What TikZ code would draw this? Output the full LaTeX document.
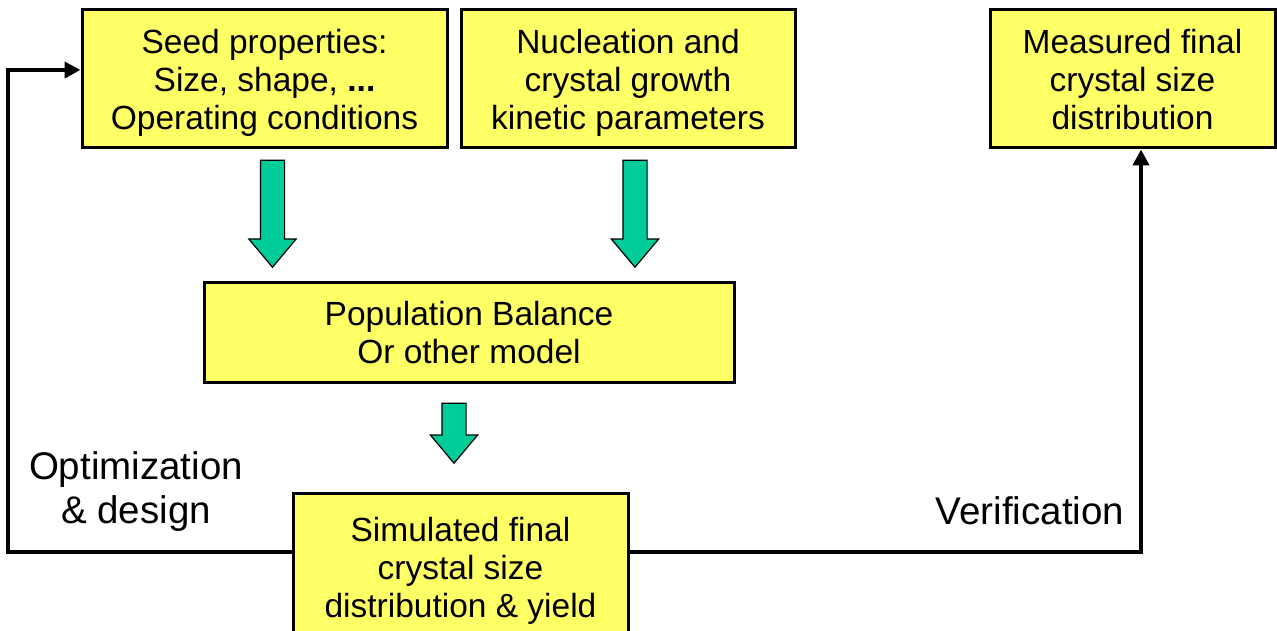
\documentclass[tikz,border=0pt]{standalone}
\usepackage{fontspec}
\setmainfont{Liberation Sans}
\usetikzlibrary{shapes.arrows,arrows.meta}
\definecolor{boxyellow}{HTML}{FFFF66}
\definecolor{arrowgreen}{HTML}{00CC99}
\tikzset{
    stagebox/.style={draw=black, line width=3pt, fill=boxyellow, align=center,
        inner sep=0pt, text depth=-4pt, font=\fontsize{33.5}{38}\selectfont},
    blockarrow/.style={single arrow, draw=black, line width=1.2pt, fill=arrowgreen,
        inner xsep=11.5pt, inner ysep=0pt, single arrow head extend=11.5pt,
        single arrow tip angle=80, shape border rotate=270},
    loopline/.style={line width=4pt, -{Triangle[length=16pt,width=16pt]}},
    looplabel/.style={font=\fontsize{38.5}{44}\selectfont, align=center}
}
\begin{document}
\begin{tikzpicture}[x=1pt,y=-1pt]
    \useasboundingbox[fill=white] (0,0) rectangle (1277,631);
    % boxes
    \node[stagebox, minimum width=365pt, minimum height=138pt] (seed) at (264.5,79)
        {Seed properties:\\Size, shape, \textbf{...}\\Operating conditions};
    \node[stagebox, minimum width=334pt, minimum height=138pt] (kinetic) at (628,79)
        {Nucleation and\\crystal growth\\kinetic parameters};
    \node[stagebox, minimum width=285pt, minimum height=138pt] (measured) at (1132.5,79)
        {Measured final\\crystal size\\distribution};
    \node[stagebox, text depth=-12pt, minimum width=530pt, minimum height=100pt] (model) at (469,332)
        {Population Balance\\Or other model};
    \node[stagebox, text depth=0pt, minimum width=335pt, minimum height=148pt] (simulated) at (460.5,567)
        {Simulated final\\crystal size\\distribution \& yield};
    % green arrows
    \node[blockarrow, minimum height=107pt] (arrowA) at (272.5,206.5) {};
    \node[blockarrow, minimum height=107pt] (arrowB) at (635,206.5) {};
    \node[blockarrow, minimum height=60pt] (arrowC) at (454,426) {};
    % feedback lines
    \coordinate (leftturn) at (8,552);
    \coordinate (rightturn) at (1141,552);
    \draw[loopline] (simulated.west |- leftturn) -- (leftturn) |- (seed.west |- 0,70);
    \draw[loopline] (simulated.east |- rightturn) -- (rightturn) -- (rightturn |- measured.south);
    \node[looplabel] (optlabel) at (136,492) {Optimization\\\& design};
    \node[looplabel] (verlabel) at (1030,511) {Verification};
\end{tikzpicture}
\end{document}
